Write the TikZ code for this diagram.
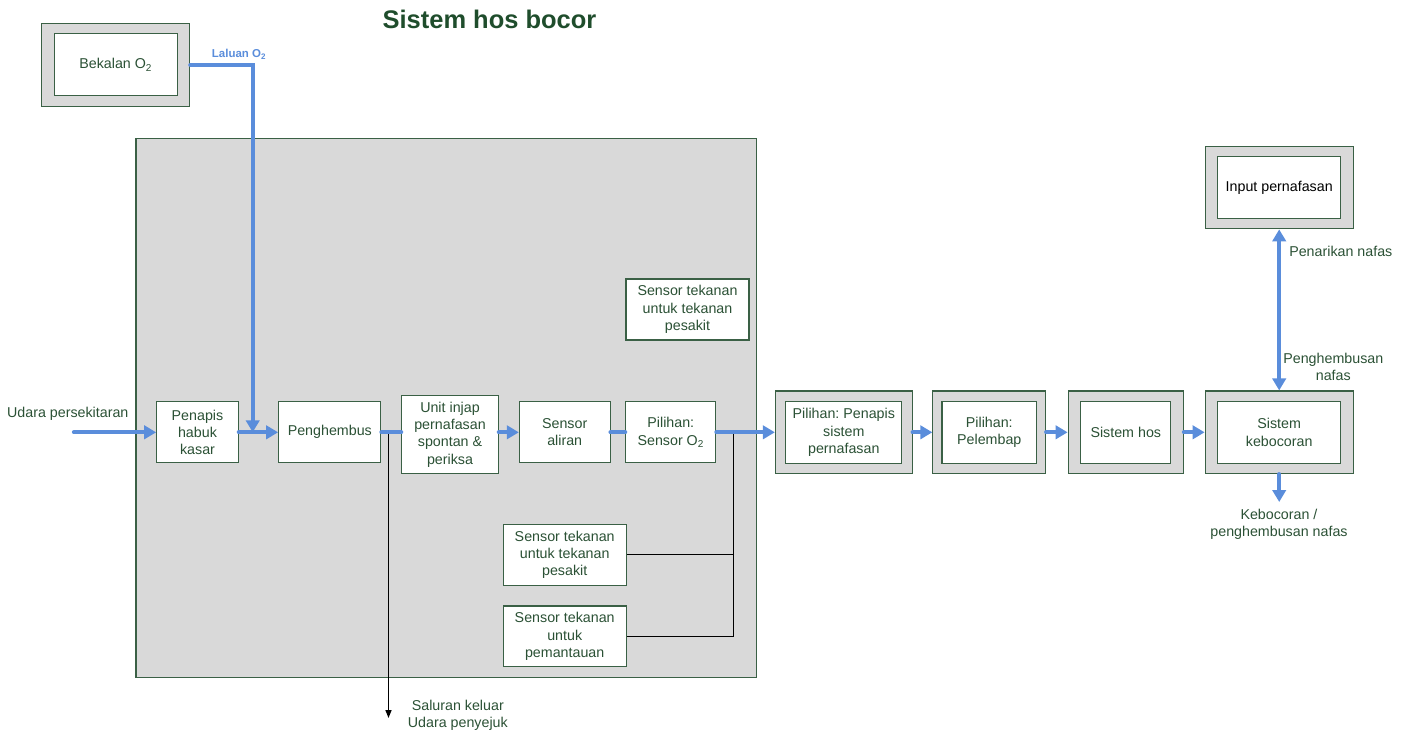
\documentclass[tikz,border=0pt]{standalone}
\usepackage{fontspec}
\setmainfont{Liberation Sans}
\frenchspacing
\usetikzlibrary{arrows.meta,fit,backgrounds}
\definecolor{hosgreen}{HTML}{2B5135}
\definecolor{hostitle}{HTML}{1F4D2C}
\definecolor{hosline}{HTML}{3A6045}
\definecolor{hosgray}{HTML}{D9D9D9}
\definecolor{hosblue}{HTML}{5A8DDB}
\tikzset{
  kotak/.style={draw=hosline,fill=white,text=hosgreen,align=center,inner sep=0pt,line width=0.8pt,
    font=\fontsize{10.7}{13}\selectfont},
  bingkai/.style={draw=hosline,fill=hosgray,line width=0.8pt,inner xsep=9pt,inner ysep=7.5pt},
  teks/.style={text=hosgreen,align=center,inner sep=0pt,font=\fontsize{10.7}{13}\selectfont},
  paip/.style={draw=hosblue,line width=3.2pt,line cap=round},
  paipanak/.style={paip,-{Triangle[length=9pt,width=10pt]}},
  wayar/.style={black,line width=1.1pt}
}
\begin{document}
\begin{tikzpicture}[x=0.75pt,y=-0.75pt,line join=miter]
  \useasboundingbox (0,0) rectangle (1410,733);
  % title
  \node[anchor=base,text=hostitle,font=\fontsize{19.1}{23}\selectfont\bfseries] (judul) at (489.5,28) {Sistem hos bocor};
  % ventilator body
  \node[draw=hosline,fill=hosgray,line width=0.8pt,minimum width=465.5pt,minimum height=404pt,inner sep=0pt] (badan) at (446.3,407.7) {};
  % supply
  \node[kotak,minimum width=92.25pt,minimum height=46.3pt] (bekalan) at (115.8,64.8) {Bekalan O\textsubscript{2}};
  \node[anchor=base west,text=hosblue,font=\fontsize{8.6}{10}\selectfont\bfseries,inner sep=0pt] (laluan) at (211.7,57.7) {Laluan O\textsubscript{2}};
  % main line inside the body
  \node[kotak,minimum width=61.2pt,minimum height=45.75pt] (penapis) at (197.5,432.3) {Penapis\\habuk\\kasar};
  \node[kotak,minimum width=76.7pt,minimum height=45.75pt] (penghembus) at (329.8,432.3) {Penghembus};
  \node[kotak,minimum width=72.5pt,minimum height=58.2pt] (unit) at (450,434.5) {Unit injap\\pernafasan\\spontan \&\\periksa};
  \node[kotak,minimum width=68pt,minimum height=45.75pt] (aliran) at (564.7,432.3) {Sensor\\aliran};
  \node[kotak,minimum width=67.7pt,minimum height=45.75pt] (pilO2) at (670.8,432.3) {Pilihan:\\Sensor O\textsubscript{2}};
  \node[kotak,minimum width=92.25pt,minimum height=45.75pt] (sensatas) at (687.5,309.5) {Sensor tekanan\\untuk tekanan\\pesakit};
  \node[kotak,minimum width=92pt,minimum height=46pt] (senspesakit) at (564.7,554.7) {Sensor tekanan\\untuk tekanan\\pesakit};
  \node[kotak,minimum width=92pt,minimum height=45.5pt] (senspantau) at (564.7,636.3) {Sensor tekanan\\untuk\\pemantauan};
  % hose side
  \node[kotak,minimum width=86.8pt,minimum height=46.2pt] (penapissis) at (843.8,432.3) {Pilihan: Penapis\\sistem\\pernafasan};
  \node[kotak,minimum width=71pt,minimum height=46.2pt] (pelembap) at (989.3,432.3) {Pilihan:\\Pelembap};
  \node[kotak,minimum width=67.7pt,minimum height=46.2pt] (hos) at (1125.8,432.3) {Sistem hos};
  \node[kotak,minimum width=92.25pt,minimum height=46.2pt] (kebocoran) at (1279.2,432.3) {Sistem\\kebocoran};
  \node[kotak,text=black,minimum width=92.25pt,minimum height=46.2pt] (input) at (1279.2,187.5) {Input pernafasan};
  % grey frames
  \begin{scope}[on background layer]
    \node[bingkai,fit=(bekalan)] (bekalanO) {};
    \node[bingkai,inner xsep=7.5pt,fit=(penapissis)] (penapissisO) {};
    \node[bingkai,inner xsep=6.4pt,fit=(pelembap)] (pelembapO) {};
    \node[bingkai,fit=(hos)] (hosO) {};
    \node[bingkai,fit=(kebocoran)] (kebocoranO) {};
    \node[bingkai,fit=(input)] (inputO) {};
  \end{scope}
  % free labels
  \node[teks,anchor=base] (udara) at (67.8,417.7) {Udara persekitaran};
  \node[teks] (saluran) at (457.8,715.5) {Saluran keluar\\Udara penyejuk};
  \node[teks] (bocor) at (1279,524.4) {Kebocoran /\\penghembusan nafas};
  \node[teks,anchor=base west] (tarik) at (1289,256.7) {Penarikan nafas};
  \node[teks] (hembus) at (1333.3,367.2) {Penghembusan\\nafas};
  \coordinate (udaraIn) at (74,432.3);
  \coordinate (o2Join) at (252.7,432.3);
  \coordinate (ventTop) at (388.5,432.3);
  \coordinate (ventOut) at (388.5,718);
  \coordinate (busTop) at (733.3,432.3);
  \coordinate (bocorOut) at (1279.2,502);
  % wires
  \draw[wayar,-{Triangle[length=6pt,width=4.5pt]}] (ventTop) -- (ventOut);
  \draw[wayar] (busTop) |- (senspantau);
  \draw[wayar] (senspesakit.east) -- (senspesakit.east -| busTop);
  % pipes
  \draw[paipanak] (udaraIn) -- (penapis);
  \draw[paipanak] (penapis) -- (penghembus);
  \draw[paipanak] (bekalanO.east) -| (o2Join);
  \draw[paip] (penghembus.east) -- (penghembus.east -| unit.west);
  \draw[paipanak] (aliran.west -| unit.east) -- (aliran);
  \draw[paip] (aliran) -- (pilO2);
  \draw[paipanak] (pilO2) -- (penapissisO);
  \draw[paipanak] (penapissisO) -- (pelembapO);
  \draw[paipanak] (pelembapO) -- (hosO);
  \draw[paipanak] (hosO) -- (kebocoranO);
  \draw[paipanak] (kebocoranO) -- (bocorOut);
  \draw[paip,{Triangle[length=9pt,width=10pt]}-{Triangle[length=9pt,width=10pt]}] (inputO) -- (kebocoranO);
\end{tikzpicture}
\end{document}
